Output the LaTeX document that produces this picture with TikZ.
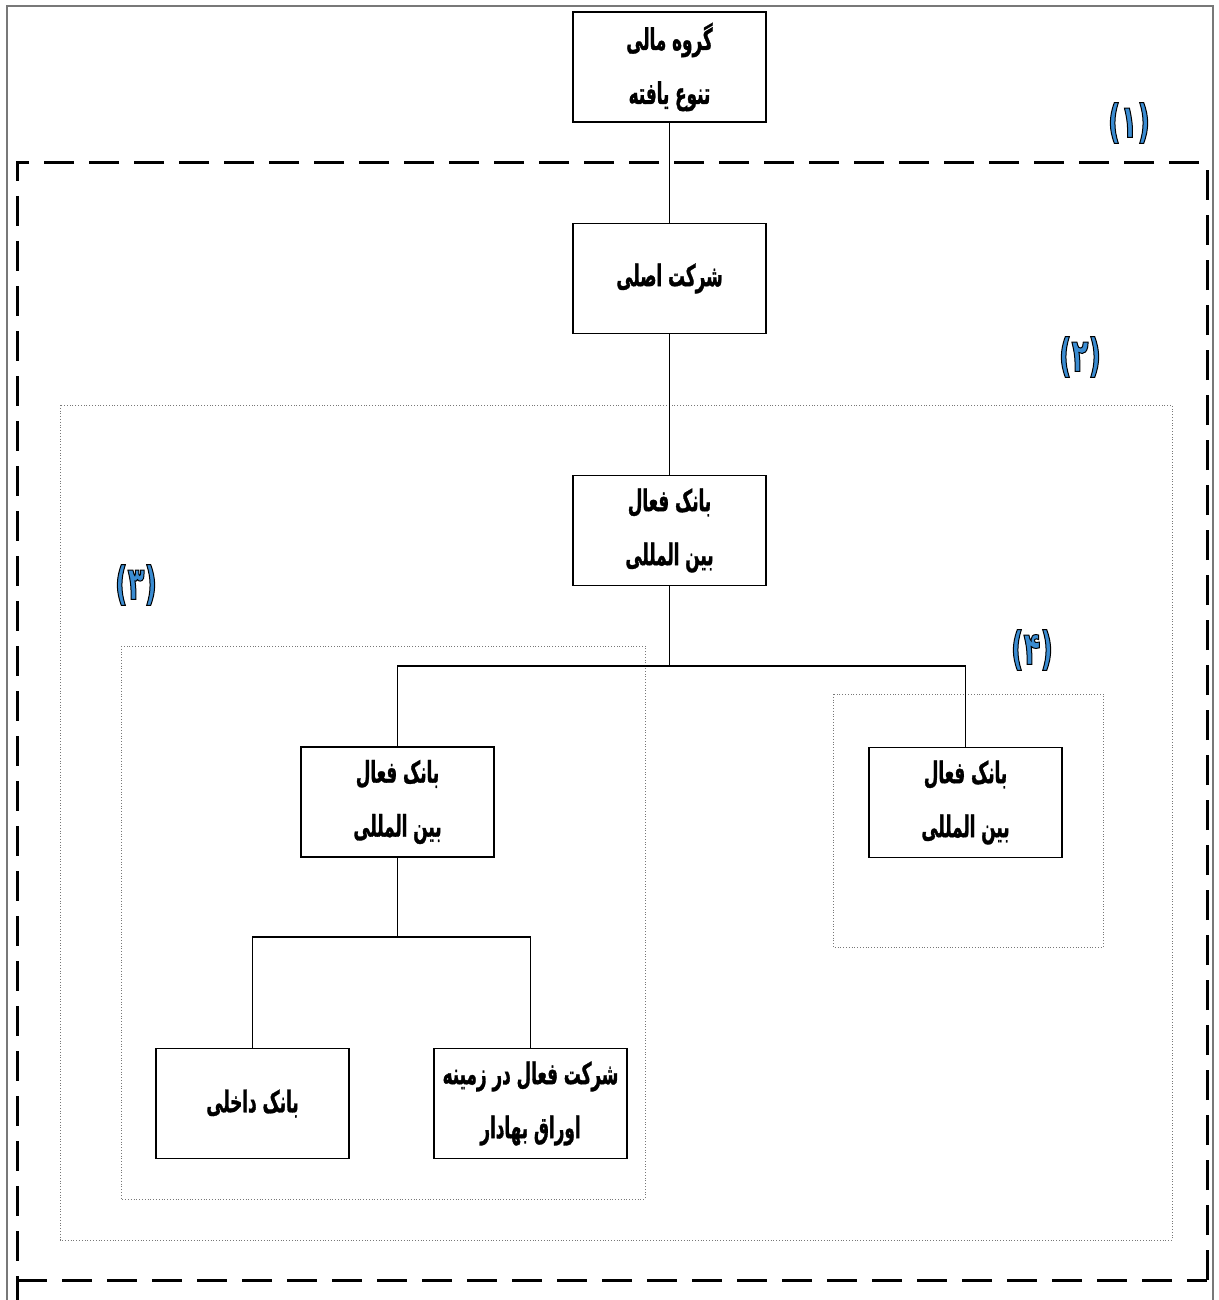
\documentclass[tikz,border=0pt]{standalone}
\usepackage{fontspec}
\newfontfamily\arabicfont[Script=Arabic,FakeStretch=0.56,FakeBold=1]{DejaVu Sans}
\newfontfamily\numfont[Script=Arabic,FakeStretch=0.6]{DejaVu Sans}
\TeXXeTstate=1
\definecolor{numblue}{RGB}{58,140,210}
\definecolor{framegray}{RGB}{120,120,120}
\newcommand\outltext[1]{\special{pdf:literal direct 0 0 0 RG 0.5 w 2 Tr}#1\special{pdf:literal direct 0 Tr}}
\begin{document}
\begin{tikzpicture}[x=0.5pt,y=-0.5pt,
  orgbox/.style={draw=black, line width=0.7pt, fill=white, minimum width=96.5pt, minimum height=55pt,
    inner sep=0pt, align=center, font=\arabicfont\bfseries\fontsize{15}{27}\selectfont},
  conn/.style={draw=black, line width=0.7pt},
  bigdash/.style={draw=black, line width=1.5pt, dash pattern=on 15pt off 7.5pt},
  dotbox/.style={draw=framegray, line width=0.4pt, densely dotted},
  numlabel/.style={text=numblue, font=\numfont\bfseries\fontsize{23}{26}\selectfont, inner sep=0pt}]
\useasboundingbox (0,0) rectangle (1219,1300);
\clip (0,0) rectangle (1219,1300);
\fill[white] (0,0) rectangle (1219,1300);
% outer thin frame
\draw[framegray, line width=0.6pt] (7,1300) -- (7,6) -- (1213,6) -- (1213,1300);
% dashed box (1)
\draw[bigdash] (1207,1280) -- (1207,163) -- (17,163) -- (17,1300);
\draw[bigdash] (17,1280) -- (1207,1280);
% dotted boxes
\draw[dotbox] (60,405) rectangle (1172,1240);
\draw[dotbox] (121,646) rectangle (645,1199);
\draw[dotbox] (833,694) rectangle (1103,947);
% nodes
\node[orgbox] (top) at (669.5,67) {\beginR گروه مالی\endR\\\beginR تنوع یافته\endR};
\node[orgbox] (asli) at (669.5,278.5) {\beginR شرکت اصلی\endR};
\node[orgbox] (bank) at (669.5,530.5) {\beginR بانک فعال\endR\\\beginR بین المللی\endR};
\node[orgbox] (lb) at (397.5,802) {\beginR بانک فعال\endR\\\beginR بین المللی\endR};
\node[orgbox] (rb) at (965.5,802.5) {\beginR بانک فعال\endR\\\beginR بین المللی\endR};
\node[orgbox] (dk) at (252.5,1103.5) {\beginR بانک داخلی\endR};
\node[orgbox] (sf) at (530.5,1103.5) {\beginR شرکت فعال در زمینه\endR\\\beginR اوراق بهادار\endR};
\coordinate (j1) at (669.5,666);
\coordinate (j2) at (397.5,937);
% connectors
\draw[conn] (top.south) -- (asli.north);
\draw[conn] (asli.south) -- (bank.north);
\draw[conn] (bank.south) -- (j1);
\draw[conn] (lb.north) |- (j1) -| (rb.north);
\draw[conn] (lb.south) -- (j2);
\draw[conn] (dk.north) |- (j2) -| (sf.north);
% number labels
\node[numlabel] (n1) at (1129,123) {\outltext{\beginR(۱)\endR}};
\node[numlabel] (n2) at (1080,357) {\outltext{\beginR(۲)\endR}};
\node[numlabel] (n3) at (136,585) {\outltext{\beginR(۳)\endR}};
\node[numlabel] (n4) at (1032,650) {\outltext{\beginR(۴)\endR}};
\end{tikzpicture}
\end{document}
